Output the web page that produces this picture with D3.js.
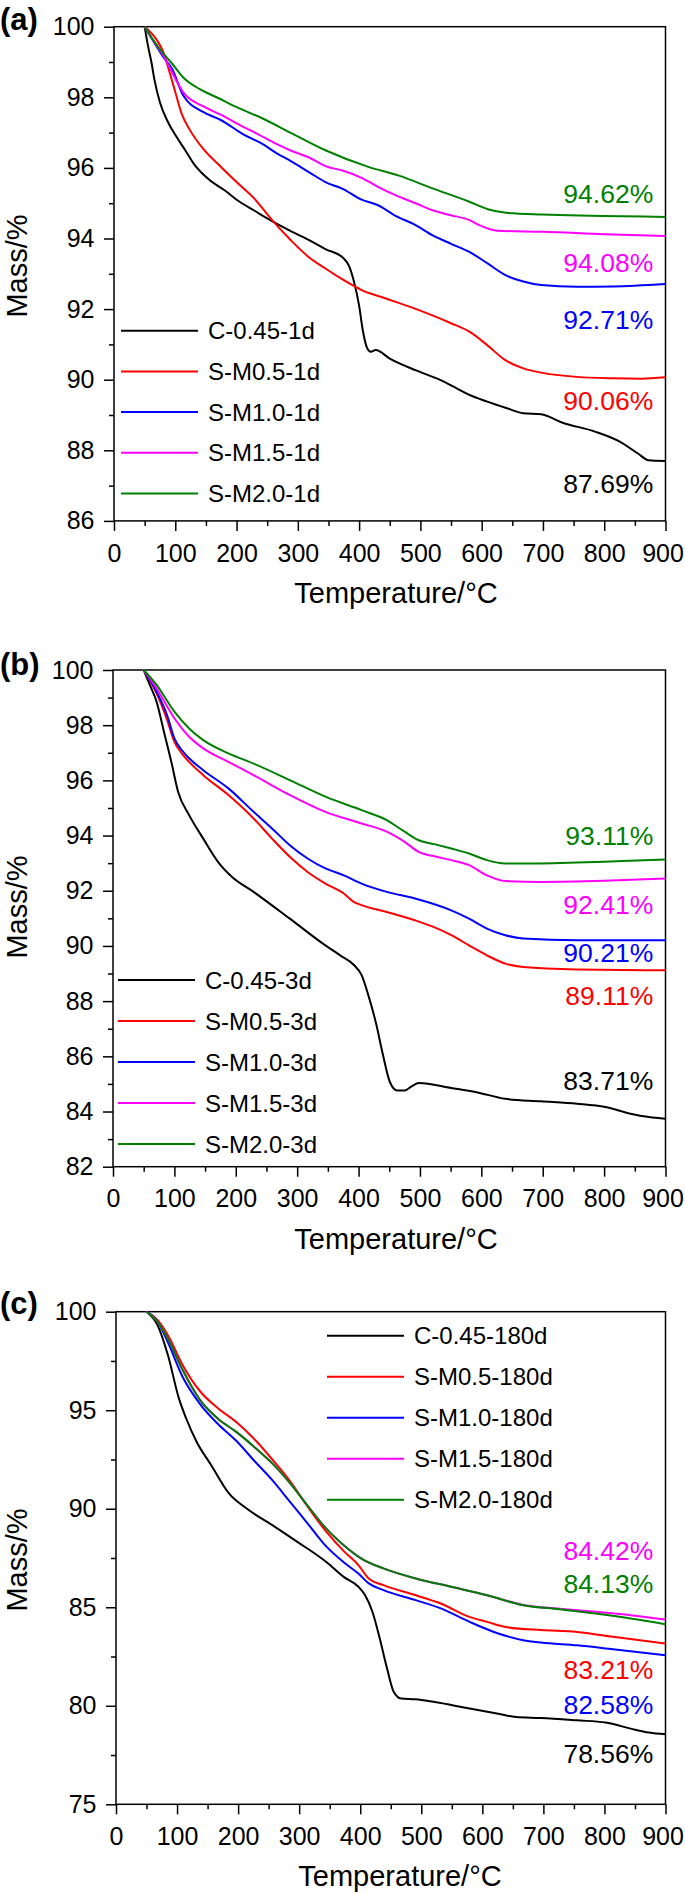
<!DOCTYPE html>
<html>
<head>
<meta charset="utf-8">
<script src="https://d3js.org/d3.v7.min.js"></script>
<style>
  body { margin: 0; background: #fff; }
  svg { display: block; font-family: "Liberation Sans", Arial, Helvetica, sans-serif; }
  .curve { fill: none; stroke-width: 2; }
  .legend text { font-size: 24px; }
  .final { font-size: 26.5px; }
  .axis-title { font-size: 29px; }
  .panel-letter { font-size: 31px; font-weight: bold; }
</style>
</head>
<body>
<div id="chart"></div>
<script>
// ---- data: [temperature °C, mass %] ----

// (a) 1 day
var a_C045 = [[50,100],[55,99.5],[61,99.0],[66,98.5],[75,97.85],[88,97.3],[102,96.88],[117,96.48],[130,96.12],[157,95.64],[181,95.36],[205,95.04],[228,94.8],[255,94.52],[287,94.22],[320,93.94],[345,93.7],[374,93.45],[384,93.2],[392,92.75],[400,92.1],[406,91.4],[413,90.9],[419,90.79],[427,90.84],[450,90.6],[492,90.27],[533,89.99],[560,89.75],[580,89.57],[609,89.38],[640,89.2],[668,89.05],[697,89.02],[732,88.78],[785,88.53],[826,88.24],[855,87.91],[872,87.72],[900,87.70]];
var a_M05 = [[50,100],[70,99.62],[80,99.3],[90,98.75],[100,98.15],[110,97.55],[124,97.07],[145,96.55],[175,96.02],[200,95.6],[228,95.15],[258,94.52],[287,93.98],[316,93.5],[345,93.15],[375,92.82],[404,92.54],[435,92.35],[490,92.02],[550,91.6],[580,91.36],[609,90.98],[638,90.56],[668,90.32],[697,90.2],[755,90.08],[814,90.04],[860,90.03],[900,90.07]];
var a_M10 = [[50,100],[65,99.57],[80,99.15],[95,98.8],[113,98.05],[146,97.58],[175,97.35],[211,96.95],[240,96.7],[265,96.42],[290,96.18],[320,95.86],[345,95.6],[374,95.4],[404,95.1],[430,94.95],[462,94.62],[490,94.4],[521,94.08],[550,93.85],[580,93.62],[609,93.3],[638,92.97],[668,92.78],[697,92.68],[755,92.63],[814,92.64],[900,92.71]];
var a_M15 = [[50,100],[65,99.58],[80,99.2],[92,98.8],[113,98.14],[146,97.74],[175,97.5],[211,97.16],[230,97.0],[265,96.68],[290,96.48],[320,96.28],[345,96.05],[374,95.92],[404,95.72],[430,95.47],[460,95.22],[492,95.0],[520,94.8],[550,94.66],[580,94.52],[597,94.37],[626,94.22],[700,94.19],[800,94.12],[900,94.07]];
var a_M20 = [[50,100],[65,99.6],[80,99.25],[95,98.95],[113,98.56],[140,98.23],[170,97.98],[200,97.72],[240,97.42],[290,96.98],[345,96.5],[415,96.03],[465,95.78],[520,95.42],[580,95.04],[610,94.83],[640,94.73],[700,94.68],[760,94.65],[830,94.63],[900,94.61]];

// (b) 3 days
var b_C045 = [[50,100],[60,99.46],[71,98.85],[83,97.76],[95,96.67],[106,95.59],[124,94.74],[147,93.89],[171,93.05],[194,92.5],[229,91.96],[288,90.99],[346,90.02],[370,89.66],[393,89.3],[405,88.94],[416,88.21],[428,87.24],[440,86.03],[451,85.07],[463,84.76],[475,84.76],[487,84.92],[498,85.03],[551,84.85],[592,84.7],[639,84.46],[697,84.37],[756,84.28],[802,84.16],[843,83.92],[873,83.8],[900,83.74]];
var b_M05 = [[50,100],[71,99.15],[88,98.2],[100,97.4],[112,96.98],[124,96.67],[147,96.19],[188,95.47],[229,94.62],[259,93.89],[288,93.23],[317,92.68],[346,92.26],[376,91.9],[392,91.6],[405,91.48],[446,91.23],[492,90.93],[522,90.69],[551,90.39],[580,90.02],[609,89.66],[639,89.36],[668,89.24],[756,89.15],[900,89.12]];
var b_M10 = [[50,100],[71,99.21],[88,98.37],[100,97.52],[112,97.1],[124,96.8],[147,96.37],[188,95.71],[229,94.86],[259,94.26],[288,93.65],[317,93.17],[346,92.81],[376,92.56],[405,92.26],[446,91.96],[492,91.72],[551,91.29],[580,90.99],[609,90.63],[639,90.39],[668,90.27],[756,90.21],[900,90.21]];
var b_M15 = [[50,100],[71,99.33],[100,98.25],[124,97.58],[147,97.16],[188,96.67],[229,96.19],[288,95.47],[346,94.86],[405,94.44],[446,94.14],[475,93.77],[498,93.41],[525,93.24],[551,93.11],[580,92.93],[609,92.56],[639,92.35],[697,92.32],[800,92.36],[900,92.44]];
var b_M20 = [[50,100],[71,99.46],[100,98.49],[124,97.88],[147,97.46],[188,96.98],[229,96.61],[288,96.01],[346,95.41],[405,94.92],[446,94.56],[475,94.14],[498,93.83],[525,93.68],[551,93.53],[580,93.35],[609,93.11],[639,92.99],[697,92.99],[756,93.02],[830,93.08],[900,93.13]];

// (c) 180 days
var c_C045 = [[50,100],[68,99.32],[85,97.8],[103,95.6],[115,94.58],[132,93.4],[156,92.21],[185,90.78],[214,90.01],[256,89.17],[297,88.32],[344,87.31],[373,86.54],[397,86.04],[408,85.61],[420,84.77],[432,83.41],[444,81.89],[455,80.7],[467,80.37],[491,80.33],[520,80.2],[579,79.86],[626,79.6],[655,79.43],[696,79.38],[755,79.26],[802,79.15],[843,78.84],[873,78.64],[900,78.55]];
var c_M05 = [[50,100],[68,99.58],[85,98.8],[109,97.3],[138,95.95],[167,95.1],[197,94.4],[226,93.55],[256,92.5],[285,91.4],[314,90.1],[344,88.85],[373,87.85],[397,87.14],[414,86.46],[438,86.12],[491,85.61],[532,85.19],[579,84.51],[608,84.26],[638,84.0],[696,83.84],[755,83.75],[814,83.5],[900,83.16]];
var c_M10 = [[50,100],[68,99.49],[85,98.45],[109,96.7],[138,95.3],[167,94.3],[197,93.45],[226,92.45],[256,91.45],[285,90.35],[314,89.25],[344,88.1],[373,87.28],[397,86.71],[414,86.21],[438,85.87],[491,85.36],[532,84.94],[579,84.26],[626,83.67],[667,83.33],[696,83.21],[755,83.07],[814,82.87],[900,82.57]];
var c_M15 = [[50,100],[68,99.49],[85,98.63],[109,97.05],[138,95.5],[167,94.57],[197,93.9],[226,93.15],[256,92.3],[285,91.3],[314,90.15],[344,89.0],[373,88.15],[402,87.47],[438,86.97],[491,86.46],[549,86.04],[608,85.61],[667,85.12],[726,84.93],[785,84.77],[843,84.6],[900,84.38]];
var c_M20 = [[50,100],[68,99.49],[85,98.63],[109,97.05],[138,95.5],[167,94.57],[197,93.9],[226,93.15],[256,92.3],[285,91.3],[314,90.15],[344,89.0],[373,88.15],[402,87.47],[438,86.97],[491,86.46],[549,86.04],[608,85.61],[667,85.1],[726,84.9],[785,84.68],[843,84.43],[900,84.14]];

// legend names
var names_a = ["C-0.45-1d", "S-M0.5-1d", "S-M1.0-1d", "S-M1.5-1d", "S-M2.0-1d"];
var names_b = ["C-0.45-3d", "S-M0.5-3d", "S-M1.0-3d", "S-M1.5-3d", "S-M2.0-3d"];
var names_c = ["C-0.45-180d", "S-M0.5-180d", "S-M1.0-180d", "S-M1.5-180d", "S-M2.0-180d"];

// final residual mass labels and the mass level (in axis units) where each sits
var finals_a = ["87.69%", "90.06%", "92.71%", "94.08%", "94.62%"];
var finalsAt_a = [86.80, 89.14, 91.43, 93.06, 95.0];
var finals_b = ["83.71%", "89.11%", "90.21%", "92.41%", "93.11%"];
var finalsAt_b = [84.78, 87.86, 89.42, 91.16, 93.66];
var finals_c = ["78.56%", "83.21%", "82.58%", "84.42%", "84.13%"];
var finalsAt_c = [77.12, 81.36, 79.60, 87.40, 85.72];

var xTicks = [0, 100, 200, 300, 400, 500, 600, 700, 800, 900];
var colors = ["#000000", "#ff0000", "#0000ff", "#ff00ff", "#008000"];

// ---- drawing ----
var width = 685, height = 1894;

var svg = d3.select('#chart')
    .append('svg')
    .attr('width', width)
    .attr('height', height);

function drawPanel(p) {
    var g = svg.append('g');

    var x = d3.scaleLinear().domain([0, 900]).range([p.left, p.right]);
    var y = d3.scaleLinear().domain([p.yMin, 100]).range([p.bottom, p.top]);

    // minor ticks first, majors on top
    var xMinor = g.append('g')
        .attr('transform', 'translate(0,' + p.bottom + ')')
        .call(d3.axisBottom(x).tickValues(xTicks.slice(0, -1).map(function(t) { return t + 50; }))
              .tickSize(5).tickSizeOuter(0).tickFormat(''));
    var xAxis = g.append('g')
        .attr('transform', 'translate(0,' + p.bottom + ')')
        .call(d3.axisBottom(x).tickValues(xTicks).tickSize(10).tickSizeOuter(0).tickPadding(13));

    // keep the last label inside the page
    xAxis.selectAll('.tick text')
        .filter(function(d) { return d === 900; })
        .attr('dx', -3);

    var yVals = d3.range(p.yMin, 100.001, p.yStep);
    var yMinor = g.append('g')
        .attr('transform', 'translate(' + p.left + ',0)')
        .call(d3.axisLeft(y).tickValues(yVals.slice(0, -1).map(function(v) { return v + p.yStep / 2; }))
              .tickSize(5).tickSizeOuter(0).tickFormat(''));
    var yAxis = g.append('g')
        .attr('transform', 'translate(' + p.left + ',0)')
        .call(d3.axisLeft(y).tickValues(yVals).tickSize(10).tickSizeOuter(0).tickPadding(9.5));

    [xMinor, xAxis, yMinor, yAxis].forEach(function(a) {
        a.attr('font-size', 25).attr('font-family', null);
        a.select('.domain').remove();
        a.selectAll('line').attr('stroke-width', 1.5);
    });

    // frame
    g.append('rect')
        .attr('x', p.left).attr('y', p.top)
        .attr('width', p.right - p.left).attr('height', p.bottom - p.top)
        .attr('fill', 'none').attr('stroke', '#000').attr('stroke-width', 1.5);

    var line = d3.line()
        .x(function(d) { return x(d[0]); })
        .y(function(d) { return y(d[1]); })
        .curve(d3.curveMonotoneX);

    g.selectAll('path.curve')
        .data(p.series)
        .enter()
        .append('path')
        .attr('class', 'curve')
        .attr('d', line)
        .attr('stroke', function(d, i) { return colors[i]; });

    // legend
    var legend = g.selectAll('.legend')
        .data(p.names)
        .enter()
        .append('g')
        .attr('class', 'legend')
        .attr('transform', function(d, i) {
            return 'translate(' + p.legendX + ',' + (p.legendY + i * p.legendGap) + ')';
        });
    legend.append('line')
        .attr('x1', 0).attr('x2', 77)
        .attr('stroke', function(d, i) { return colors[i]; })
        .attr('stroke-width', 2);
    legend.append('text')
        .attr('x', 87)
        .attr('y', 8.5)
        .text(function(d) { return d; });

    // final mass labels
    g.selectAll('text.final')
        .data(p.finals)
        .enter()
        .append('text')
        .attr('class', 'final')
        .attr('text-anchor', 'end')
        .attr('x', x(880))
        .attr('y', function(d, i) { return y(p.finalsAt[i]); })
        .attr('fill', function(d, i) { return colors[i]; })
        .text(function(d) { return d; });

    // axis titles and panel letter
    g.append('text')
        .attr('class', 'axis-title')
        .attr('text-anchor', 'middle')
        .attr('x', p.titleX)
        .attr('y', p.bottom + 82)
        .text('Temperature/°C');

    g.append('text')
        .attr('class', 'axis-title')
        .attr('text-anchor', 'middle')
        .attr('transform', 'translate(27,' + p.yTitleMid + ') rotate(-90)')
        .text('Mass/%');

    g.append('text')
        .attr('class', 'panel-letter')
        .attr('x', 0)
        .attr('y', p.letterY)
        .text(p.letter);
}

drawPanel({
    left: 114, right: 665.5, top: 26.7, bottom: 520.9,
    yMin: 86, yStep: 2,
    series: [a_C045, a_M05, a_M10, a_M15, a_M20],
    names: names_a, finals: finals_a, finalsAt: finalsAt_a,
    legendX: 121, legendY: 330.7, legendGap: 40.7,
    titleX: 396, yTitleMid: 266, letter: '(a)', letterY: 30
});

drawPanel({
    left: 113, right: 665.5, top: 670, bottom: 1166.7,
    yMin: 82, yStep: 2,
    series: [b_C045, b_M05, b_M10, b_M15, b_M20],
    names: names_b, finals: finals_b, finalsAt: finalsAt_b,
    legendX: 118, legendY: 980, legendGap: 41,
    titleX: 396, yTitleMid: 907, letter: '(b)', letterY: 675
});

drawPanel({
    left: 116, right: 665.5, top: 1311.7, bottom: 1804.3,
    yMin: 75, yStep: 5,
    series: [c_C045, c_M05, c_M10, c_M15, c_M20],
    names: names_c, finals: finals_c, finalsAt: finalsAt_c,
    legendX: 327, legendY: 1335.7, legendGap: 41,
    titleX: 400, yTitleMid: 1560, letter: '(c)', letterY: 1313.5
});
</script>
</body>
</html>
